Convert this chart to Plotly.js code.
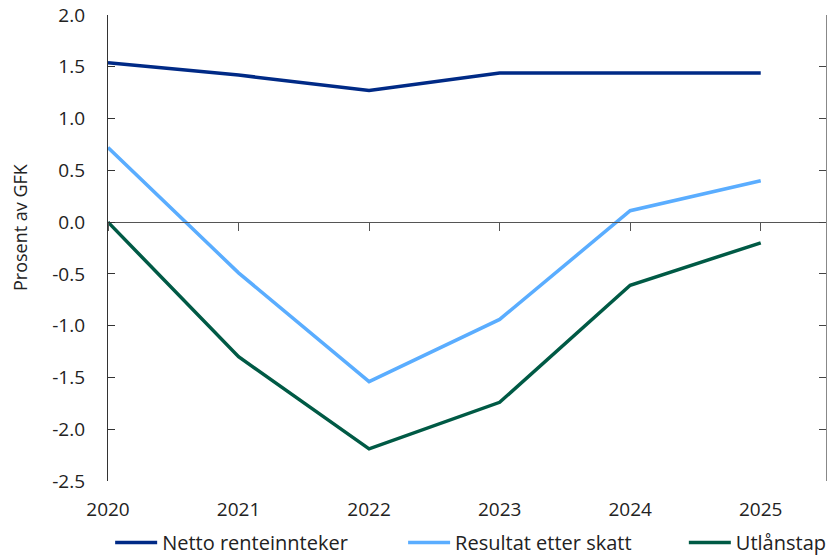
<!DOCTYPE html>
<html>
<head>
<meta charset="utf-8">
<script src="https://cdn.plot.ly/plotly-3.0.1.min.js"></script>
<style>html,body{margin:0;padding:0;background:#fff;}#chart{width:827px;height:557px;}</style>
</head>
<body>
<div id="chart"></div>
<script>
const years = [2020, 2021, 2022, 2023, 2024, 2025];
const nettoRenteinntekter = [1.54, 1.42, 1.27, 1.44, 1.44, 1.44];
const resultatEtterSkatt = [0.72, -0.49, -1.54, -0.94, 0.11, 0.40];
const utlanstap = [0.0, -1.30, -2.19, -1.74, -0.61, -0.20];
const seriesNames = ['Netto renteinnteker', 'Resultat etter skatt', 'Utlånstap'];
const yTicks = [2.0, 1.5, 1.0, 0.5, 0.0, -0.5, -1.0, -1.5, -2.0, -2.5];
const yTitle = 'Prosent av GFK';

const font = 'Open Sans, Noto Sans, sans-serif';
const traces = [
  {x: years, y: nettoRenteinntekter, name: seriesNames[0], mode: 'lines', line: {color: '#002a86', width: 3.5}, legend: 'legend'},
  {x: years, y: resultatEtterSkatt, name: seriesNames[1], mode: 'lines', line: {color: '#5aadff', width: 3.5}, legend: 'legend2'},
  {x: years, y: utlanstap, name: seriesNames[2], mode: 'lines', line: {color: '#005a45', width: 3.5}, legend: 'legend3'},
  {x: years, y: utlanstap, xaxis: 'x2', yaxis: 'y2', mode: 'lines', line: {color: 'rgba(0,0,0,0)'}, showlegend: false, hoverinfo: 'skip'}
];
const yr = [-2.5, 2.0];
const zeroFrac = (0 - yr[0]) / (yr[1] - yr[0]);
const legendBase = {orientation: 'h', xanchor: 'left', y: -0.132, yanchor: 'middle', font: {size: 20, color: '#222'}, itemwidth: 42, bgcolor: 'rgba(0,0,0,0)'};
const layout = {
  width: 827, height: 557,
  margin: {l: 108, r: 1, t: 15, b: 76, autoexpand: false},
  paper_bgcolor: '#fff', plot_bgcolor: '#fff',
  font: {family: font, size: 19, color: '#222'},
  showlegend: true,
  legend: Object.assign({}, legendBase, {x: 0.003}),
  legend2: Object.assign({}, legendBase, {x: 0.411}),
  legend3: Object.assign({}, legendBase, {x: 0.802}),
  xaxis: {range: [2020, 2025.5], tickvals: years, ticktext: years.map(String), showgrid: false, zeroline: false, showline: false,
          ticks: 'outside', ticklen: 11, tickcolor: 'rgba(0,0,0,0)', tickfont: {size: 19, color: '#222'}},
  xaxis2: {overlaying: 'x', anchor: 'free', position: zeroFrac, range: [2020, 2025.5], tickvals: years, showticklabels: false,
           showgrid: false, zeroline: false, showline: true, linecolor: '#555', linewidth: 1.2, ticks: 'outside', ticklen: 8, tickcolor: '#555'},
  yaxis: {range: yr, tickvals: yTicks, ticktext: yTicks.map(v => v.toFixed(1)), showgrid: false, zeroline: false,
          showline: true, linecolor: '#333', linewidth: 1.2, ticks: 'inside', ticklen: 7, tickcolor: '#333', ticklabelstandoff: 18,
          tickfont: {size: 19, color: '#222'}},
  yaxis2: {overlaying: 'y', side: 'right', anchor: 'x', range: yr, tickvals: yTicks, showticklabels: false, showgrid: false, zeroline: false,
           showline: true, linecolor: '#888', linewidth: 1.2, ticks: 'inside', ticklen: 7, tickcolor: '#444'},
  annotations: [{text: yTitle, xref: 'paper', yref: 'paper', x: -0.1226, y: 0.545, xanchor: 'center', yanchor: 'middle',
                 textangle: -90, showarrow: false, font: {size: 18, color: '#222'}}]
};
Plotly.newPlot('chart', traces, layout, {displayModeBar: false, staticPlot: true});
</script>
</body>
</html>
